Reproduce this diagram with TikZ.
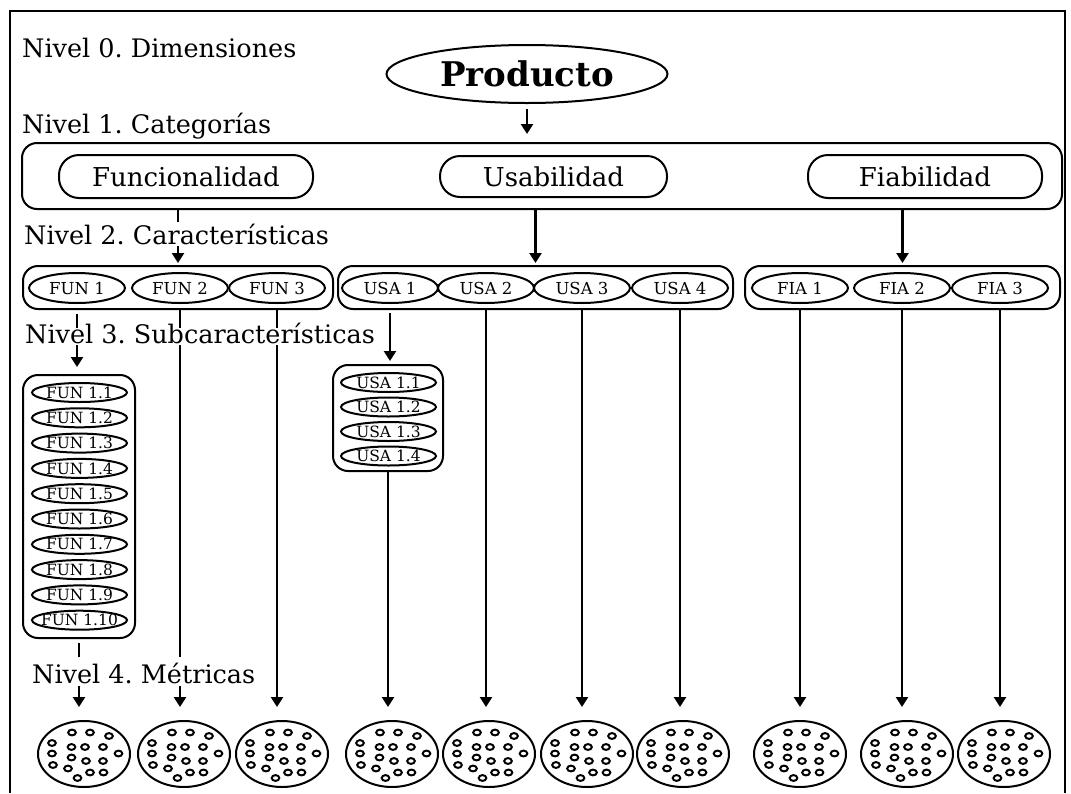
\documentclass[tikz,border=0pt]{standalone}
\usepackage{fontspec}
\setmainfont{DejaVu Serif}
\frenchspacing
\usetikzlibrary{shapes.geometric,arrows.meta}
\begin{document}
\begin{tikzpicture}[x=1pt,y=-1pt,
  shp/.style={draw, line width=2pt},
  conn/.style={line width=2.4pt, -{Triangle[width=12pt,length=10pt]}},
  lvl/.style={anchor=base west, inner sep=0pt, fill=white, font=\fontsize{25.5}{30}\selectfont},
  catbox/.style={shp, rounded corners=20pt, inner sep=0pt, font=\fontsize{26}{30}\selectfont},
  ell/.style={shp, ellipse, inner sep=0pt, minimum width=96pt, minimum height=30pt, font=\fontsize{16.5}{20}\selectfont},
  subell/.style={shp, ellipse, inner sep=0pt, minimum width=95pt, minimum height=19pt},
  sublab/.style={font=\fontsize{15.5}{18}\selectfont, inner sep=0pt},
  grp/.style={shp, rounded corners=15pt, inner sep=0pt},
  metric/.style={shp, ellipse, minimum width=92pt, minimum height=66pt, inner sep=0pt},
  ring/.style={line width=2pt}
]
\useasboundingbox (0,0) rectangle (1071,793);
% frame
\draw[line width=2.5pt] (10,793) -- (10,11) -- (1065,11) -- (1065,793);

% level 0
\node[shp, ellipse, minimum width=281pt, minimum height=58pt, inner sep=0pt,
      font=\fontsize{34}{36}\selectfont\bfseries] (prod) at (527,74) {Producto};

% level 1
\node[shp, rounded corners=15pt, minimum width=1040pt, minimum height=66pt] (cat) at (542,176) {};
\node[catbox, minimum width=254pt, minimum height=43pt] (fun) at (186,176.5) {Funcionalidad};
\node[catbox, minimum width=227pt, minimum height=41pt] (usa) at (553.5,176.5) {Usabilidad};
\node[catbox, minimum width=234pt, minimum height=43pt] (fia) at (925,176.5) {Fiabilidad};

% level 2
\node[grp, minimum width=310pt, minimum height=43pt] (fung) at (178,287.5) {};
\node[grp, minimum width=395pt, minimum height=43pt] (usag) at (535.5,287.5) {};
\node[grp, minimum width=315pt, minimum height=43pt] (fiag) at (902.5,287.5) {};
\node[ell] (fun1) at (77,288) {FUN 1};
\node[ell] (fun2) at (180,288) {FUN 2};
\node[ell] (fun3) at (277,288) {FUN 3};
\node[ell] (usa1) at (390,288) {USA 1};
\node[ell] (usa2) at (486,288) {USA 2};
\node[ell] (usa3) at (582,288) {USA 3};
\node[ell] (usa4) at (680,288) {USA 4};
\node[ell] (fia1) at (800,288) {FIA 1};
\node[ell] (fia2) at (902,288) {FIA 2};
\node[ell] (fia3) at (1000,288) {FIA 3};

% level 3
\node[grp, minimum width=112pt, minimum height=263pt] (funsub) at (79,506.5) {};
\foreach \i in {1,...,10}{
  \node[subell, label={[sublab]center:FUN 1.\i}] (f1\i) at (79.5,{392.5+25.3*(\i-1)}) {};
}
\node[grp, minimum width=110pt, minimum height=106pt] (usasub) at (388,418) {};
\foreach \i in {1,...,4}{
  \node[subell, label={[sublab]center:USA 1.\i}] (u1\i) at (388.5,{382.5+24.5*(\i-1)}) {};
}

% level 4 metrics
\foreach \n/\x in {1/84,2/184,3/282,4/392,5/489,6/587,7/683,8/800,9/907,10/1004}{
  \node[metric] (m\n) at (\x,754) {};
  \foreach \dx/\dy in {-12/-21.5, 6/-21.5, 25/-18, -32/-11, -12.5/-7, 1/-7, 19/-7, 34.5/-0.5,
                       -32/-0.5, -12.5/3.5, 2/7, 19/7, -31/11, -16/14.5, -6.5/24, 6/18.5, 19.5/18.5}{
    \draw[ring] ([shift={(\dx,\dy)}]m\n.center) ellipse (3.8 and 2.9);
  }
}

% connectors
\draw[conn, shorten <=5pt, shorten >=8pt] (prod.south) -- (prod.south |- cat.north);
\draw[conn, shorten >=2pt] (fung.north |- cat.south) -- (fung.north);
\draw[conn, shorten >=2pt] (usag.north |- cat.south) -- (usag.north);
\draw[conn, shorten >=2pt] (fiag.north |- cat.south) -- (fiag.north);

\draw[conn, shorten <=4pt, shorten >=7pt] (fun1 |- fung.south) -- (fun1 |- funsub.north);
\draw[conn, shorten <=4pt, shorten >=13pt] (funsub.south) -- (funsub.south |- m1.north);
\draw[conn, shorten >=13pt] (fun2 |- fung.south) -- (fun2 |- m2.north);
\draw[conn, shorten >=13pt] (fun3 |- fung.south) -- (fun3 |- m3.north);

\draw[conn, shorten <=3pt, shorten >=3pt] (usa1 |- usag.south) -- (usa1 |- usasub.north);
\draw[conn, shorten >=13pt] (usasub.south) -- (usasub.south |- m4.north);
\draw[conn, shorten >=13pt] (usa2 |- usag.south) -- (usa2 |- m5.north);
\draw[conn, shorten >=13pt] (usa3 |- usag.south) -- (usa3 |- m6.north);
\draw[conn, shorten >=13pt] (usa4 |- usag.south) -- (usa4 |- m7.north);

\draw[conn, shorten >=13pt] (fia1 |- fiag.south) -- (fia1 |- m8.north);
\draw[conn, shorten >=13pt] (fia2 |- fiag.south) -- (fia2 |- m9.north);
\draw[conn, shorten >=13pt] (fia3 |- fiag.south) -- (fia3 |- m10.north);

% level labels
\node[lvl] (l0) at (22,57) {Nivel 0. Dimensiones};
\node[lvl] (l1) at (22,133) {Nivel 1. Categorías};
\node[lvl, text height=22pt, text depth=2pt] (l2) at (24,244) {Nivel 2. Características};
\node[lvl, text height=15pt, text depth=2pt] (l3) at (25,343) {Nivel 3. Subcaracterísticas};
\node[lvl, text height=26pt, text depth=3pt] (l4) at (32,683) {Nivel 4. Métricas};
\end{tikzpicture}
\end{document}
